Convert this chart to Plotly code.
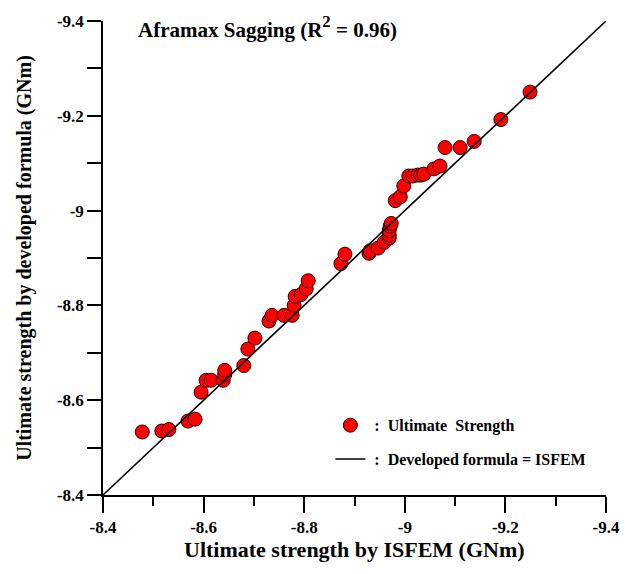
import plotly.graph_objects as go

# Ultimate strength (GNm): ISFEM results vs. developed formula
isfem = [-8.478, -8.517, -8.531, -8.569, -8.583, -8.595, -8.605, -8.615, -8.639, -8.642,
         -8.642, -8.680, -8.688, -8.702, -8.730, -8.736, -8.760, -8.776, -8.780, -8.782,
         -8.794, -8.804, -8.808, -8.873, -8.881, -8.929, -8.931, -8.947, -8.959, -8.969,
         -8.969, -8.969, -8.971, -8.973, -8.981, -8.991, -8.998, -9.008, -9.016, -9.026,
         -9.032, -9.038, -9.058, -9.070, -9.080, -9.110, -9.138, -9.191, -9.249]
formula = [-8.533, -8.535, -8.538, -8.556, -8.560, -8.617, -8.642, -8.642, -8.642, -8.654,
           -8.663, -8.673, -8.708, -8.731, -8.767, -8.779, -8.779, -8.779, -8.800, -8.819,
           -8.823, -8.835, -8.852, -8.888, -8.908, -8.910, -8.915, -8.921, -8.933, -8.942,
           -8.948, -8.958, -8.967, -8.973, -9.021, -9.029, -9.052, -9.073, -9.073, -9.075,
           -9.075, -9.077, -9.088, -9.094, -9.133, -9.133, -9.146, -9.192, -9.250]

axis_min, axis_max = -8.4, -9.4
major_ticks = [-8.4, -8.6, -8.8, -9.0, -9.2, -9.4]
tick_text = ["-8.4", "-8.6", "-8.8", "-9", "-9.2", "-9.4"]

serif = "Liberation Serif, Times New Roman, serif"
nb = "\u00a0"

fig = go.Figure()
fig.add_trace(go.Scatter(
    x=isfem, y=formula, mode="markers",
    name=f"{nb}:{nb}{nb}Ultimate{nb}{nb}Strength", legendgroup="pts",
    marker=dict(size=14, color="#ff0000", line=dict(color="#2a0000", width=1)),
))
fig.add_trace(go.Scatter(
    x=[axis_min, axis_max], y=[axis_min, axis_max], mode="lines",
    name=f"{nb}:{nb}{nb}Developed formula = ISFEM", legendgroup="line",
    line=dict(color="black", width=1.6),
))

axis_common = dict(
    range=[axis_min, axis_max],
    tickvals=major_ticks, ticktext=tick_text,
    showgrid=False, zeroline=False,
    showline=True, linecolor="black", linewidth=1.6,
    ticks="outside", tickcolor="black", tickwidth=1.6,
    tickfont=dict(family=serif, size=17, color="black", weight="bold"),
)

fig.update_xaxes(
    **axis_common, ticklen=16,
    minor=dict(dtick=0.1, tick0=-8.4, ticks="outside", ticklen=9,
               tickcolor="black", tickwidth=1.6, showgrid=False),
)
fig.update_yaxes(
    **axis_common, ticklen=14,
    minor=dict(dtick=0.1, tick0=-8.4, ticks="outside", ticklen=14,
               tickcolor="black", tickwidth=1.6, showgrid=False),
    title=dict(text="<b>Ultimate strength by developed formula (GNm)</b>",
               font=dict(family=serif, size=20, color="black"), standoff=20),
)

# x-axis title placed under the tick labels
fig.add_annotation(
    xref="paper", yref="paper", x=0.5, y=-0.115, xanchor="center", yanchor="middle",
    text="<b>Ultimate strength by ISFEM (GNm)</b>", showarrow=False,
    font=dict(family=serif, size=22, color="black"),
)

fig.add_annotation(
    xref="paper", yref="paper", x=0.066, y=0.987, xanchor="left", yanchor="middle",
    text="<b>Aframax Sagging (R<span style='font-size:24px'><sup>2</sup></span> = 0.96)</b>",
    showarrow=False,
    font=dict(family=serif, size=21, color="black"),
)

fig.update_layout(
    width=632, height=574,
    margin=dict(l=103, r=25, t=15, b=79),
    plot_bgcolor="white", paper_bgcolor="white",
    legend=dict(
        x=0.452, y=0.183, xanchor="left", yanchor="top",
        bgcolor="rgba(0,0,0,0)", tracegroupgap=10,
        font=dict(family=serif, size=16, color="black", weight="bold"),
    ),
)

fig.write_html("out.html")
